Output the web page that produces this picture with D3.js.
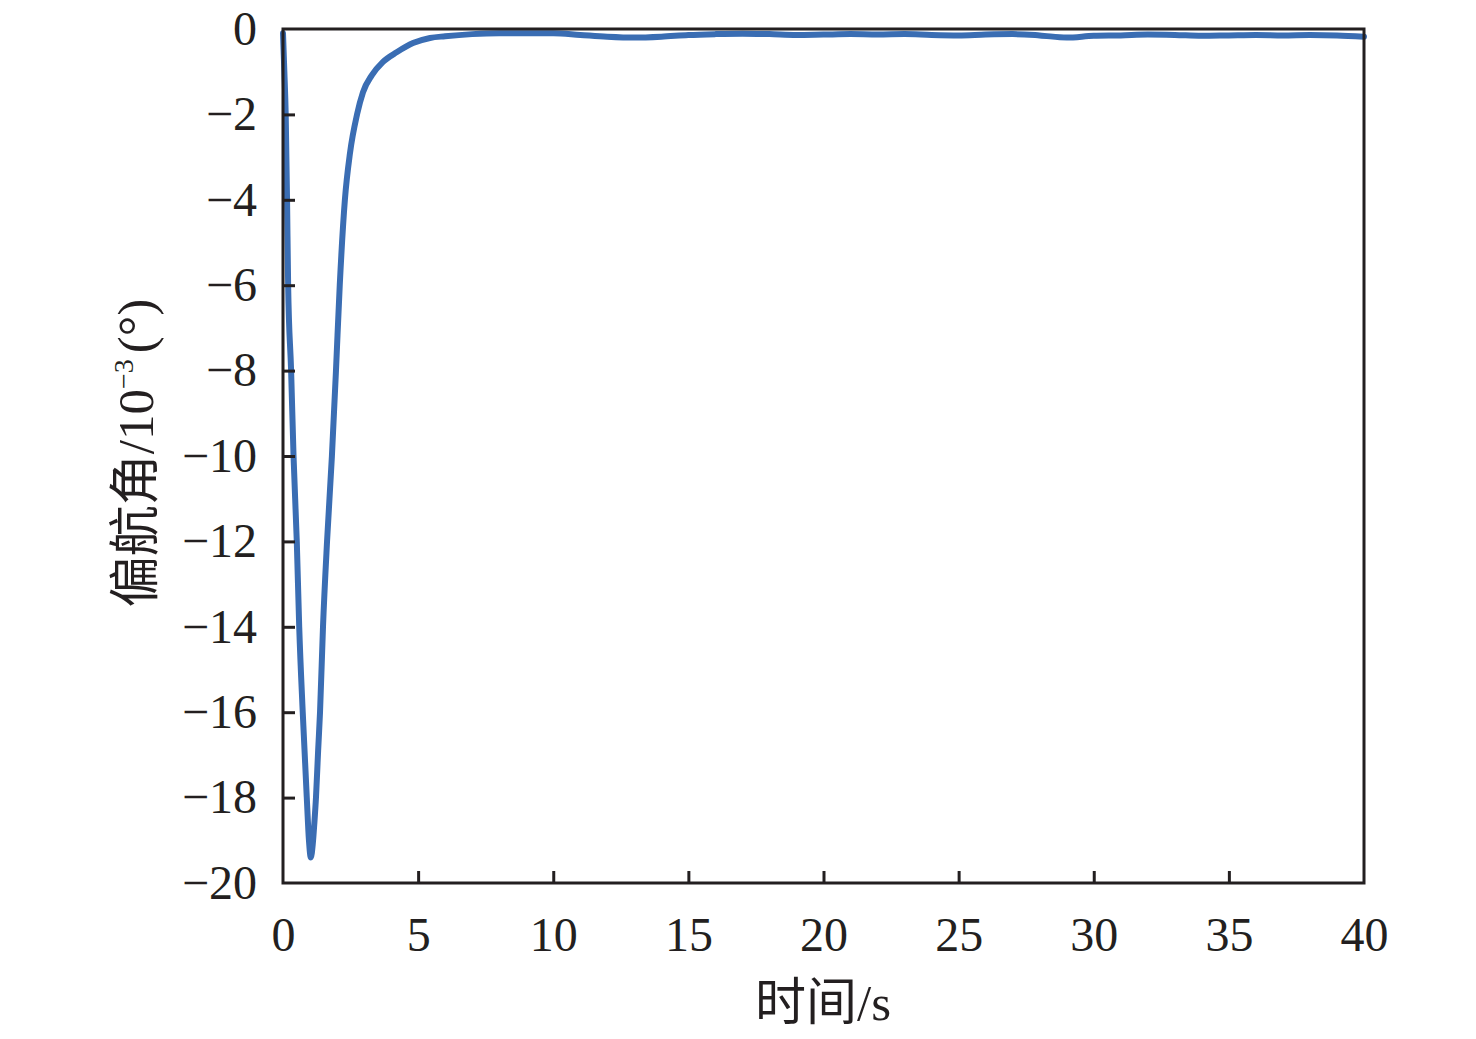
<!DOCTYPE html>
<html>
<head>
<meta charset="utf-8">
<script src="https://cdn.jsdelivr.net/npm/d3@7"></script>
<style>
  html, body { margin: 0; padding: 0; background: #fff; }
  svg { display: block; }
</style>
</head>
<body>
<svg id="chart" width="1476" height="1039"></svg>
<script>
// Data (time in s, yaw angle in 10^-3 degrees)
const timeValues = [
  0, 0.05, 0.1, 0.15, 0.19, 0.3, 0.39, 0.51, 0.6, 0.73, 0.88, 0.96, 1.03, 1.1, 1.16,
  1.22, 1.3, 1.37, 1.48, 1.63, 1.81, 1.96, 2.1, 2.29, 2.48, 2.74, 2.96, 3.29, 3.7, 4.22, 4.81, 5.44,
  6, 7, 8, 9, 10, 11, 12, 13, 14, 15, 16, 17, 18, 19, 20, 21, 22, 23, 24, 25, 26, 27, 28, 29,
  30, 31, 32, 33, 34, 35, 36, 37, 38, 39, 40
];
const yawValues = [
  -0.1, -1.0, -2.0, -4.0, -6.0, -8.0, -10.0, -12.0, -14.0, -16.0, -18.0, -19.0, -19.4, -19.1, -18.6,
  -18.0, -16.9, -16.0, -14.0, -12.0, -10.0, -8.0, -6.0, -4.0, -2.9, -2.0, -1.48, -1.08, -0.77, -0.54, -0.33, -0.21,
  -0.17, -0.12, -0.10, -0.10, -0.10, -0.14, -0.18, -0.20, -0.18, -0.14, -0.12, -0.11, -0.12, -0.14, -0.13, -0.12, -0.13, -0.12, -0.14, -0.15, -0.13, -0.12, -0.15, -0.20,
  -0.16, -0.15, -0.13, -0.14, -0.16, -0.15, -0.14, -0.15, -0.14, -0.15, -0.18
];
const xTicks = [0, 5, 10, 15, 20, 25, 30, 35, 40];
const yTicks = [0, -2, -4, -6, -8, -10, -12, -14, -16, -18, -20];
const xTitle = "时间/s";

const svg = d3.select("#chart");
const pLeft = 283, pRight = 1364, pTop = 29, pBottom = 883;
const x = d3.scaleLinear().domain([0, 40]).range([pLeft, pRight]);
const y = d3.scaleLinear().domain([-20, 0]).range([pBottom, pTop]);
const axisColor = "#231f20";
const fontFamily = "'Liberation Serif', 'Times New Roman', 'Noto Sans CJK SC', serif";
const fmt = d => d < 0 ? "\u2212" + Math.abs(d) : String(d);

// line
const data = timeValues.map((t, i) => ({ t, v: yawValues[i] }));
svg.append("path")
  .datum(data)
  .attr("fill", "none")
  .attr("stroke", "#3a6db3")
  .attr("stroke-width", 6)
  .attr("stroke-linejoin", "round")
  .attr("stroke-linecap", "round")
  .attr("d", d3.line().x(d => x(d.t)).y(d => y(d.v)).curve(d3.curveMonotoneX));

// frame
svg.append("rect")
  .attr("x", pLeft).attr("y", pTop)
  .attr("width", pRight - pLeft).attr("height", pBottom - pTop)
  .attr("fill", "none").attr("stroke", axisColor).attr("stroke-width", 3);

// x axis
const xAxis = svg.append("g")
  .attr("transform", `translate(0,${pBottom})`)
  .call(d3.axisBottom(x).tickValues(xTicks).tickSize(-12).tickPadding(34).tickFormat(fmt));
xAxis.select(".domain").remove();
xAxis.selectAll(".tick line").attr("stroke", axisColor).attr("stroke-width", 3);
xAxis.selectAll(".tick text")
  .attr("fill", axisColor)
  .style("font-family", fontFamily)
  .style("font-size", "48px");

// y axis
const yAxis = svg.append("g")
  .attr("transform", `translate(${pLeft},0)`)
  .call(d3.axisLeft(y).tickValues(yTicks).tickSize(-12).tickPadding(26).tickFormat(fmt));
yAxis.select(".domain").remove();
yAxis.selectAll(".tick line").attr("stroke", axisColor).attr("stroke-width", 3);
yAxis.selectAll(".tick text")
  .attr("fill", axisColor)
  .style("font-family", fontFamily)
  .style("font-size", "48px");
xAxis.selectAll(".tick").filter(d => d === 0 || d === 40).select("line").remove();
yAxis.selectAll(".tick").filter(d => d === 0 || d === -20).select("line").remove();

// titles
svg.append("text")
  .attr("x", 823).attr("y", 1020)
  .attr("text-anchor", "middle")
  .attr("fill", axisColor)
  .style("font-family", fontFamily)
  .style("font-size", "51px")
  .text(xTitle);

const yt = svg.append("text")
  .attr("transform", "translate(153,453) rotate(-90)")
  .attr("text-anchor", "middle")
  .attr("fill", axisColor)
  .style("font-family", fontFamily)
  .style("font-size", "51px");
yt.append("tspan").text("偏航角/10");
yt.append("tspan").attr("dy", -20).style("font-size", "28px").text("\u22123");
yt.append("tspan").attr("dy", 20).attr("dx", 6).text("(°)");
</script>
</body>
</html>
